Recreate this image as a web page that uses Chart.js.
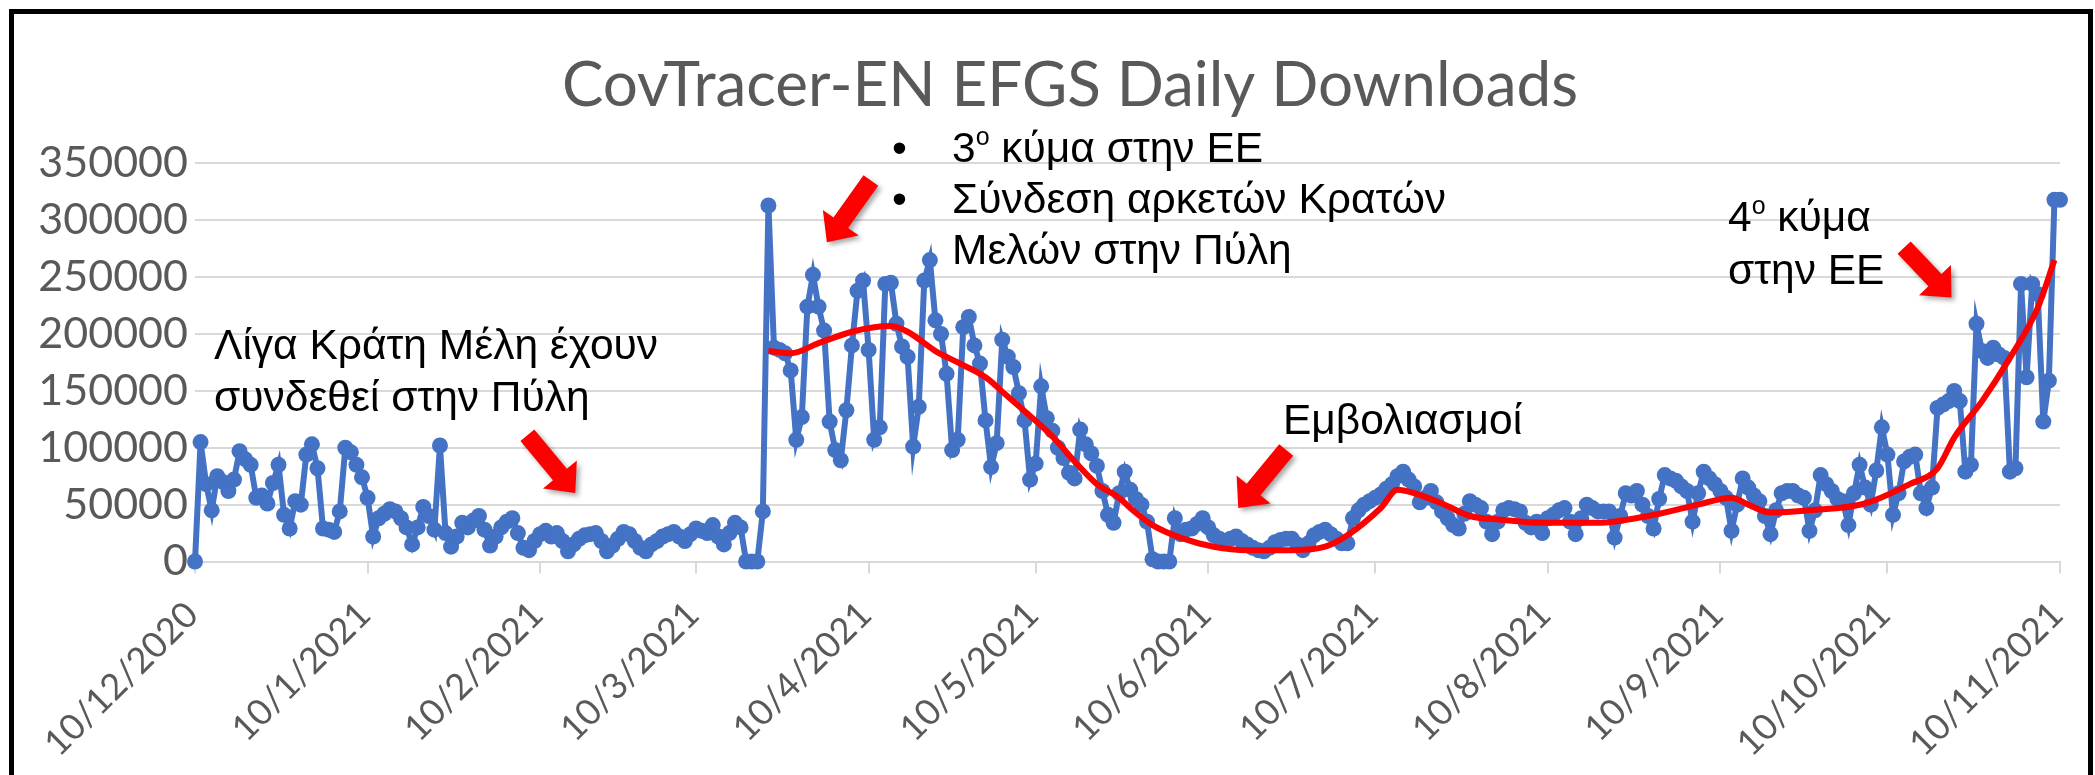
<!DOCTYPE html>
<html>
<head>
<meta charset="utf-8">
<script src="https://cdn.jsdelivr.net/npm/chart.js@4.4.1/dist/chart.umd.min.js"></script>
<style>
  body { margin: 0; background: #fff; }
  #wrap { position: relative; width: 2095px; height: 775px; overflow: hidden; background: #fff; }
  #chart { position: absolute; left: 0; top: 0; }
  .frame { position: absolute; left: 9px; top: 9px; width: 2074px; height: 900px; border: 5px solid #000; }
  .note { position: absolute; font-family: 'Liberation Sans', Arial, sans-serif; font-size: 42.5px; line-height: 42px; color: #000; white-space: nowrap; }
  .note sup { font-size: 25px; vertical-align: 17px; line-height: 0; }
</style>
</head>
<body>
<div id="wrap">
  <canvas id="chart" width="2095" height="775"></canvas>
  <div class="frame"></div>
  <div class="note" style="left:892px; top:127px">•</div>
  <div class="note" style="left:952px; top:127px">3<sup>ο</sup> κύμα στην ΕΕ</div>
  <div class="note" style="left:892px; top:178px">•</div>
  <div class="note" style="left:952px; top:178px">Σύνδεση αρκετών Κρατών</div>
  <div class="note" style="left:952px; top:229px">Μελών στην Πύλη</div>
  <div class="note" style="left:214px; top:324px">Λίγα Κράτη Μέλη έχουν</div>
  <div class="note" style="left:214px; top:376px">συνδεθεί στην Πύλη</div>
  <div class="note" style="left:1283px; top:399px">Εμβολιασμοί</div>
  <div class="note" style="left:1728px; top:196px">4<sup>ο</sup> κύμα</div>
  <div class="note" style="left:1728px; top:249px">στην ΕΕ</div>
</div>
<script>
// ημερήσια δεδομένα από 10/12/2020 έως 10/11/2021
const startDate = new Date(2020, 11, 10);

const downloads = [
    0, 105000, 68000, 45000, 75000, 70000, 62000, 72000, 97000, 90000,
    85000, 56000, 58000, 51000, 69000, 85000, 41000, 29000, 53000, 50000,
    94000, 103000, 82000, 29000, 28000, 26000, 44000, 100000, 96000, 85000,
    74000, 56000, 22000, 38000, 42000, 46000, 44000, 38000, 30000, 15000,
    30000, 48000, 40000, 28000, 102000, 25000, 13000, 22000, 34000, 30000,
    36000, 40000, 28000, 14000, 22000, 30000, 35000, 38000, 25000, 12000,
    10000, 18000, 24000, 27000, 22000, 25000, 18000, 9000, 15000, 20000,
    23000, 24000, 25000, 18000, 9000, 14000, 20000, 26000, 24000, 18000,
    12000, 9000, 15000, 18000, 22000, 24000, 26000, 22000, 18000, 24000,
    29000, 27000, 25000, 32000, 22000, 15000, 25000, 34000, 30000, 0,
    0, 0, 44000, 313000, 188000, 186000, 183000, 168000, 107000, 127000,
    224000, 252000, 224000, 203000, 123000, 98000, 89000, 133000, 190000, 238000,
    247000, 186000, 107000, 118000, 244000, 245000, 209000, 189000, 180000, 101000,
    136000, 247000, 265000, 212000, 200000, 165000, 98000, 107000, 206000, 215000,
    190000, 174000, 124000, 83000, 104000, 195000, 180000, 171000, 148000, 124000,
    72000, 86000, 154000, 126000, 115000, 100000, 91000, 78000, 73000, 116000,
    103000, 95000, 84000, 62000, 41000, 34000, 60000, 79000, 63000, 55000,
    50000, 35000, 2000, 0, 0, 0, 38000, 24000, 28000, 29000,
    33000, 38000, 30000, 23000, 20000, 18000, 20000, 22000, 18000, 15000,
    12000, 10000, 9000, 12000, 17000, 19000, 20000, 20000, 15000, 10000,
    16000, 23000, 26000, 28000, 24000, 20000, 16000, 16000, 38000, 45000,
    50000, 53000, 56000, 59000, 64000, 68000, 75000, 79000, 72000, 66000,
    52000, 56000, 62000, 52000, 44000, 38000, 32000, 29000, 42000, 53000,
    50000, 47000, 35000, 24000, 35000, 45000, 47000, 46000, 44000, 34000,
    30000, 35000, 25000, 38000, 41000, 45000, 47000, 35000, 24000, 38000,
    50000, 47000, 44000, 44000, 44000, 21000, 40000, 60000, 58000, 62000,
    50000, 40000, 29000, 55000, 76000, 73000, 71000, 66000, 62000, 35000,
    60000, 79000, 73000, 68000, 62000, 56000, 27000, 50000, 73000, 65000,
    58000, 53000, 40000, 24000, 45000, 60000, 62000, 62000, 58000, 56000,
    27000, 45000, 76000, 68000, 62000, 55000, 53000, 32000, 60000, 85000,
    65000, 50000, 80000, 118000, 94000, 41000, 60000, 88000, 92000, 94000,
    60000, 47000, 65000, 135000, 138000, 141000, 150000, 141000, 79000, 85000,
    209000, 185000, 179000, 188000, 182000, 179000, 79000, 82000, 244000, 162000,
    244000, 235000, 123000, 159000, 318000, 318000
];

// κόκκινη γραμμή τάσης (ζωγραφισμένη με το χέρι): ημέρα -> τιμή
const trendDays = [103, 107, 112, 118, 122, 125, 128, 133, 137, 142, 146, 150, 154, 158, 162, 166, 168, 172, 177, 183,
    189, 197, 203, 207, 213, 216, 219, 224, 229, 234, 242, 252, 261, 270, 276, 279, 283, 290, 300, 308,
    313, 316, 321, 326, 331, 334];
const trendValues = [185000, 183000, 192000, 202000, 206000, 207000, 202000, 185000, 175000, 162000, 145000, 128000, 110000, 88000, 68000, 56000, 47000, 32000, 21000, 13000,
    10000, 10000, 13000, 23000, 47000, 63000, 60000, 51000, 40000, 37000, 34000, 34000, 40000, 50000, 56000, 50000, 43000, 45000, 51000, 68000,
    82000, 109000, 141000, 179000, 223000, 265000];

const tickLabels = ['10/12/2020', '10/1/2021', '10/2/2021', '10/3/2021', '10/4/2021', '10/5/2021',
    '10/6/2021', '10/7/2021', '10/8/2021', '10/9/2021', '10/10/2021', '10/11/2021'];

// κόκκινα βέλη: ουρά και μύτη σε (ημέρα, τιμή)
const arrowTails = [[59.7, 111000], [121.4, 335000], [196, 98000], [307, 276000]];
const arrowTips = [[68.3, 60200], [113.5, 280600], [187.4, 47000], [315.5, 232000]];

function dayLabel(i) {
    const d = new Date(startDate.getFullYear(), startDate.getMonth(), startDate.getDate() + i);
    return `${d.getDate()}/${d.getMonth() + 1}/${d.getFullYear()}`;
}
const dates = downloads.map((v, i) => dayLabel(i));

const gray = '#595959';

const arrowPlugin = {
    id: 'arrows',
    afterLayout(chart) {
        // ο τίτλος είναι λίγο δεξιότερα από το κέντρο του καμβά
        const t = chart.titleBlock;
        if (t) { t.left += 32; t.right += 32; }
    },
    afterDatasetsDraw(chart) {
        const ctx = chart.ctx;
        const xs = chart.scales.x, ys = chart.scales.y;
        ctx.save();
        ctx.fillStyle = '#ff0000';
        ctx.shadowColor = 'rgba(0,0,0,0.35)';
        ctx.shadowBlur = 5;
        ctx.shadowOffsetX = 3;
        ctx.shadowOffsetY = 3;
        arrowTails.forEach((t, i) => {
            const tx = xs.getPixelForValue(t[0]), ty = ys.getPixelForValue(t[1]);
            const px = xs.getPixelForValue(arrowTips[i][0]), py = ys.getPixelForValue(arrowTips[i][1]);
            const len = Math.hypot(px - tx, py - ty);
            const ux = (px - tx) / len, uy = (py - ty) / len;
            const nx = -uy, ny = ux;
            const sw = 9, hw = 22, hl = 24;
            const bx = px - ux * hl, by = py - uy * hl;
            ctx.beginPath();
            ctx.moveTo(tx + nx * sw, ty + ny * sw);
            ctx.lineTo(bx + nx * sw, by + ny * sw);
            ctx.lineTo(bx + nx * hw, by + ny * hw);
            ctx.lineTo(px, py);
            ctx.lineTo(bx - nx * hw, by - ny * hw);
            ctx.lineTo(bx - nx * sw, by - ny * sw);
            ctx.lineTo(tx - nx * sw, ty - ny * sw);
            ctx.closePath();
            ctx.fill();
        });
        ctx.restore();
    }
};

new Chart(document.getElementById('chart'), {
    type: 'line',
    data: {
        labels: dates,
        datasets: [{
            label: 'Τάση',
            data: trendDays.map((d, i) => ({ x: dates[d], y: trendValues[i] })),
            borderColor: '#ff0000',
            borderWidth: 6,
            pointRadius: 0,
            cubicInterpolationMode: 'monotone',
            clip: false,
            order: 0
        }, {
            label: 'Daily Downloads',
            data: downloads,
            borderColor: '#4472c4',
            backgroundColor: '#4472c4',
            borderWidth: 6,
            pointRadius: 8,
            pointBorderWidth: 0,
            pointBackgroundColor: '#4472c4',
            clip: false,
            order: 1
        }]
    },
    options: {
        responsive: false,
        animation: false,
        devicePixelRatio: 1,
        layout: { padding: { left: 16, right: 35, top: 0, bottom: 0 } },
        plugins: {
            legend: { display: false },
            tooltip: { enabled: false },
            title: {
                display: true,
                text: 'CovTracer-EN EFGS Daily Downloads',
                color: gray,
                font: { family: 'Lato', size: 62, weight: 'normal', lineHeight: 1.2 },
                padding: { top: 49, bottom: 40 }
            }
        },
        scales: {
            x: {
                ticks: {
                    autoSkip: false,
                    maxRotation: 45,
                    minRotation: 45,
                    color: gray,
                    font: { family: 'Lato', size: 36 },
                    padding: 20,
                    labelOffset: -3,
                    callback: function (v, i) {
                        const l = dates[i];
                        return tickLabels.includes(l) ? l : null;
                    }
                },
                grid: { display: true, drawOnChartArea: false, drawTicks: true, tickLength: 12, color: '#d9d9d9', lineWidth: 2 },
                border: { display: true, color: '#d9d9d9', width: 2 },
                afterFit: function (scale) {
                    scale.height = 213.5;
                    scale.paddingLeft = 0;
                    scale.paddingRight = 0;
                }
            },
            y: {
                min: 0,
                max: 350000,
                ticks: {
                    stepSize: 50000,
                    color: gray,
                    font: { family: 'Lato', size: 43 },
                    padding: 7,
                    callback: v => String(v)
                },
                grid: { color: '#d9d9d9', lineWidth: 2, drawTicks: false },
                border: { display: false },
                afterFit: function (scale) { scale.width = 179; }
            }
        }
    },
    plugins: [arrowPlugin]
});
</script>
</body>
</html>
